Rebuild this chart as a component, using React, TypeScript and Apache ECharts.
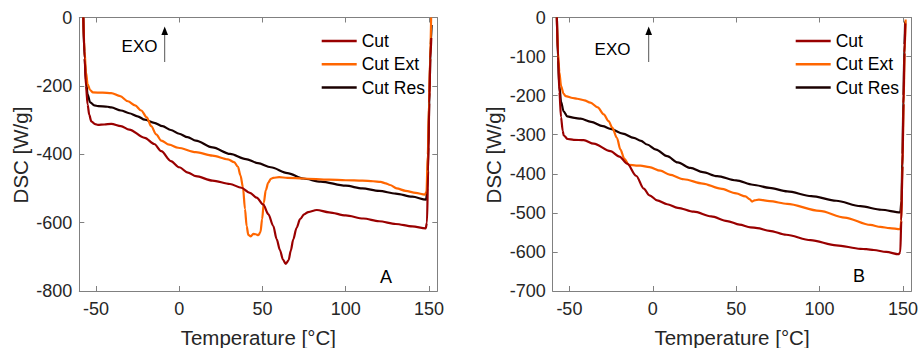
import React, { useEffect, useRef } from "react";
import * as echarts from "echarts";

const FONT = "'Liberation Sans', Arial, Helvetica, sans-serif";

const seriesNames = ["Cut", "Cut Ext", "Cut Res"];
const seriesColors = ["#990000", "#ff6600", "#1a0000"];
const xTicks = [-50, 0, 50, 100, 150];
const panelLabels = ["A", "B"];

// Panel A
const cutA: number[][] = [
  [-57.6, 0], [-56.8, -120], [-56, -200], [-55, -255], [-54, -285], [-52.8, -304], [-50.5, -312],
  [-48.8, -314], [-45, -313], [-40.8, -311], [-35, -318], [-30, -328], [-20.7, -352], [-15, -370],
  [-10.8, -391], [-5, -420], [0, -438], [5.3, -454], [10, -464], [20, -477], [30.5, -487], [37.3, -498],
  [42.5, -513], [46.5, -527], [50.5, -547], [53.5, -575], [56.5, -610], [58.5, -648], [60.5, -680],
  [62.3, -708], [64, -721], [65.7, -710], [67, -682], [68.5, -649], [70.5, -615], [72.6, -590],
  [75, -576], [77.5, -569], [82.6, -563], [90, -570], [100, -579], [110.6, -588], [120, -596],
  [130, -604], [140, -611], [148, -617], [148.8, -600], [149.5, -450], [150.2, -250], [150.8, -120],
  [151.4, -60],
];
const cutExtA: number[][] = [
  [-57.6, 0], [-56.8, -100], [-56, -160], [-55, -195], [-53.5, -212], [-51.8, -219], [-46, -220],
  [-40.8, -221], [-35.5, -230], [-30.8, -245], [-26.5, -257], [-22.8, -272], [-19.5, -292],
  [-16.8, -318], [-13.8, -342], [-10.8, -360], [-6, -372], [-0.7, -381], [10, -394], [20, -404],
  [29.3, -415], [33, -423], [35.3, -437], [36.8, -462], [38.3, -497], [39.5, -560], [40.5, -610],
  [41.5, -636], [43, -640], [44.5, -633], [46, -634], [47.5, -637], [48.8, -628], [49.8, -590],
  [50.8, -542], [52, -505], [53.5, -483], [55, -472], [56.5, -469], [60, -467], [65, -469],
  [74.4, -471], [90, -474], [100, -476], [110, -477], [116.4, -479], [121, -481], [124, -485],
  [126.6, -490], [130.6, -500], [136, -507], [142, -513], [147.6, -518], [148.5, -510], [149.3, -400],
  [150, -250], [150.7, -120], [151.3, 0],
];
const cutResA: number[][] = [
  [-57.6, 0], [-56.8, -120], [-56, -185], [-55, -225], [-53.5, -248], [-51, -257], [-48.7, -259],
  [-43, -261], [-40.8, -263], [-35, -272], [-30, -280], [-25, -289], [-20.7, -299], [-15, -308],
  [-10, -318], [-5, -329], [0, -340], [5, -350], [10, -360], [20, -380], [30.6, -399], [40, -414],
  [47.3, -426], [55, -438], [65, -455], [74.5, -471], [85, -480], [100, -492], [110, -500],
  [120, -507], [130, -515], [140, -524], [148.3, -533], [149, -500], [149.6, -380], [150.3, -220],
  [151, -80], [151.6, -22],
];

// Panel B
const cutB: number[][] = [
  [-57.5, 0], [-56.8, -100], [-56, -190], [-55, -255], [-54, -290], [-53.4, -302], [-51, -311],
  [-47.4, -313], [-41.4, -314], [-35.4, -323], [-25.4, -342], [-20, -356], [-15.3, -374], [-10, -405],
  [-5.4, -438], [-2, -455], [2.6, -468], [8.6, -478], [15, -487], [24.6, -497], [35, -509],
  [44.6, -521], [52, -530], [58.6, -537], [62.6, -539], [70, -546], [80, -556], [94.6, -570],
  [110, -583], [124.5, -592], [128, -593], [132.5, -595], [140, -600], [147.5, -606], [148.4, -600],
  [149, -520], [149.7, -380], [150.3, -220], [150.9, -90], [151.4, -15],
];
const cutExtB: number[][] = [
  [-57.5, 0], [-56.8, -90], [-56, -140], [-55, -175], [-53.5, -195], [-52.3, -201], [-48, -206],
  [-45.3, -208], [-41, -212], [-37.4, -218], [-33, -230], [-29.4, -248], [-26.5, -265], [-24.3, -282],
  [-21.5, -308], [-19.4, -338], [-17, -362], [-14.4, -377], [-10, -379], [-7.4, -379], [-2, -383],
  [4.6, -392], [10, -402], [18.6, -414], [30, -425], [40.6, -438], [50, -450], [55.6, -458],
  [58, -465], [59.6, -471], [61, -468], [63.6, -466], [70, -470], [80.6, -477], [100, -495],
  [115, -512], [130.5, -531], [136.5, -536], [142, -539], [148.4, -542], [149, -520], [149.7, -380],
  [150.4, -220], [151, -90], [151.6, -5],
];
const cutResB: number[][] = [
  [-57.5, 0], [-56.8, -110], [-56, -175], [-55, -215], [-53.5, -240], [-51.3, -253], [-47, -257],
  [-43.3, -259], [-37, -267], [-30, -278], [-25.4, -285], [-18, -297], [-11.4, -308], [-7, -316],
  [-3.4, -325], [2, -338], [8.6, -355], [15, -371], [22.6, -385], [30, -396], [38.6, -406],
  [50, -417], [60, -428], [70, -436], [80.6, -445], [95, -457], [110, -469], [124.5, -483],
  [137, -492], [148.4, -499], [149.1, -470], [149.7, -350], [150.3, -200], [150.9, -70], [151.3, -10],
];

const panelData = [
  [cutA, cutExtA, cutResA],
  [cutB, cutExtB, cutResB],
];
const yRanges = [
  { min: -800, max: 0, interval: 200 },
  { min: -700, max: 0, interval: 100 },
];

const AXIS_COLOR = "#808080";
const TEXT_COLOR = "#262626";

export default function App() {
  const ref = useRef<HTMLDivElement>(null);
  useEffect(() => {
    if (!ref.current) return;
    const chart = echarts.init(ref.current, undefined, { renderer: "svg" });
    const grids = [
      { left: 79.3, top: 17.5, width: 358, height: 273.5 },
      { left: 552.7, top: 17.5, width: 358.6, height: 273.5 },
    ];
    const xAxes: any[] = [];
    const yAxes: any[] = [];
    const series: any[] = [];
    grids.forEach((g, gi) => {
      const tickBase = {
        show: true,
        inside: true,
        length: 5,
        lineStyle: { color: AXIS_COLOR, width: 1 },
      };
      const lineBase = { show: true, onZero: false, lineStyle: { color: AXIS_COLOR, width: 1 } };
      xAxes.push({
        type: "value", gridIndex: gi, position: "bottom", min: -60, max: 155,
        axisLine: lineBase,
        axisTick: { ...tickBase, customValues: xTicks },
        axisLabel: { show: true, customValues: xTicks, margin: 9, color: TEXT_COLOR, fontSize: 18, fontFamily: FONT },
        splitLine: { show: false },
      });
      xAxes.push({
        type: "value", gridIndex: gi, position: "top", min: -60, max: 155,
        axisLine: lineBase,
        axisTick: { ...tickBase, customValues: xTicks },
        axisLabel: { show: false, customValues: xTicks },
        splitLine: { show: false },
      });
      const yr = yRanges[gi];
      yAxes.push({
        type: "value", gridIndex: gi, position: "left", min: yr.min, max: yr.max, interval: yr.interval,
        axisLine: lineBase,
        axisTick: tickBase,
        axisLabel: { show: true, margin: 7, color: TEXT_COLOR, fontSize: 18, fontFamily: FONT },
        splitLine: { show: false },
      });
      yAxes.push({
        type: "value", gridIndex: gi, position: "right", min: yr.min, max: yr.max, interval: yr.interval,
        axisLine: lineBase,
        axisTick: tickBase,
        axisLabel: { show: false },
        splitLine: { show: false },
      });
      panelData[gi].forEach((d, si) => {
        series.push({
          type: "line",
          name: seriesNames[si],
          xAxisIndex: gi * 2,
          yAxisIndex: gi * 2,
          data: d,
          symbol: "none",
          smooth: 0.3,
          smoothMonotone: "x",
          lineStyle: { color: seriesColors[si], width: 2.2 },
          itemStyle: { color: seriesColors[si] },
          z: 3 - si,
        });
      });
    });

    const legends = [321.7, 795.7].map((left) => ({
      data: seriesNames,
      orient: "vertical",
      left,
      top: 29.3,
      padding: 0,
      icon: "rect",
      itemWidth: 35,
      itemHeight: 2.5,
      itemGap: 0,
      selectedMode: false,
      textStyle: { fontSize: 17.5, lineHeight: 23.3, color: "#000", fontFamily: FONT, padding: [0, 0, 0, 0] },
    }));

    const titleStyle = { fill: TEXT_COLOR, fontSize: 20.5, fontFamily: FONT, textAlign: "center", textVerticalAlign: "middle" };
    const graphics: any[] = [];
    const yTitleX = [20.5, 493.7];
    const xTitleX = [258.3, 732];
    const exo = [
      { tx: 139.5, ty: 46.7, ax: 164.7 },
      { tx: 612.5, ty: 49.3, ax: 648.7 },
    ];
    const lab = [
      { x: 386, y: 276.7 },
      { x: 859, y: 276 },
    ];
    for (let i = 0; i < 2; i++) {
      graphics.push({ type: "text", x: yTitleX[i], y: 155, rotation: Math.PI / 2, style: { ...titleStyle, text: "DSC [W/g]" } });
      graphics.push({ type: "text", x: xTitleX[i], y: 337, style: { ...titleStyle, text: "Temperature [°C]" } });
      graphics.push({ type: "text", x: exo[i].tx, y: exo[i].ty, style: { text: "EXO", fill: "#000", fontSize: 17, fontFamily: FONT, textAlign: "center", textVerticalAlign: "middle" } });
      graphics.push({ type: "line", shape: { x1: exo[i].ax, y1: 62, x2: exo[i].ax, y2: 32 }, style: { stroke: "#555", lineWidth: 1 } });
      graphics.push({ type: "polygon", shape: { points: [[exo[i].ax, 26.5], [exo[i].ax - 3.3, 35], [exo[i].ax + 3.3, 35]] }, style: { fill: "#000" } });
      graphics.push({ type: "text", x: lab[i].x, y: lab[i].y, style: { text: panelLabels[i], fill: "#000", fontSize: 18, fontFamily: FONT, textAlign: "center", textVerticalAlign: "middle" } });
    }

    chart.setOption({
      animation: false,
      backgroundColor: "#fff",
      grid: grids,
      xAxis: xAxes,
      yAxis: yAxes,
      legend: legends,
      series,
      graphic: graphics,
    });
    return () => chart.dispose();
  }, []);
  return <div ref={ref} style={{ position: "fixed", left: 0, top: 0, width: 921, height: 348 }} />;
}
